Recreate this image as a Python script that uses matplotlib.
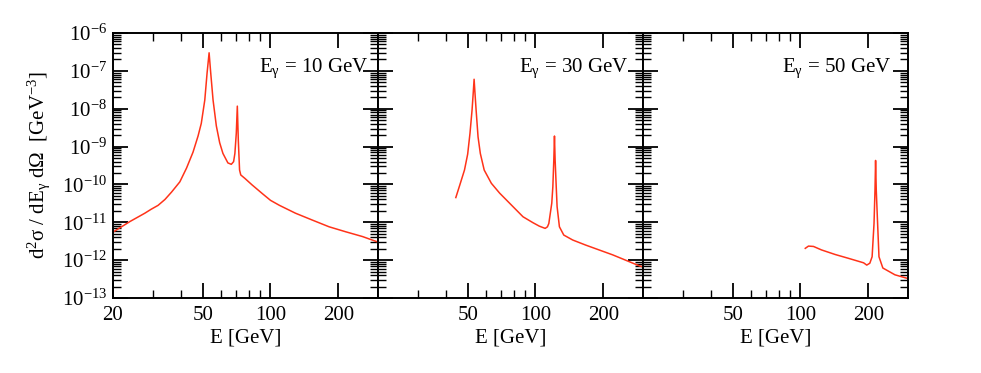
import matplotlib
matplotlib.use("Agg")
import matplotlib.pyplot as plt
import numpy as np
from matplotlib.ticker import FixedLocator, NullFormatter, LogLocator, LogFormatterMathtext, FuncFormatter

plt.rcParams['font.family'] = 'Liberation Serif'
plt.rcParams['mathtext.fontset'] = 'custom'
plt.rcParams['mathtext.rm'] = 'Liberation Serif'
plt.rcParams['mathtext.it'] = 'Liberation Serif:italic'
plt.rcParams['mathtext.default'] = 'regular'
plt.rcParams['axes.unicode_minus'] = False

# E_gamma = 10 GeV
e10 = [20.0, 23.8, 27.7, 29.5, 31.7, 34.0, 36.4, 39.6, 42.4, 45.3, 47.7, 49.3, 51.1,
       52.3, 53.4, 54.3, 55.6, 57.5, 59.5, 61.5, 64.7, 67.0, 68.6, 69.5, 70.5, 71.25,
       71.97, 72.9, 73.8, 76.9, 82.7, 92.4, 100.0, 109.6, 129.0, 153.0, 182.0, 216.0,
       256.0, 300.0]
s10 = [5.5e-12, 1.05e-11, 1.74e-11, 2.2e-11, 2.8e-11, 4.0e-11, 6.3e-11, 1.17e-10,
       2.7e-10, 7.1e-10, 1.9e-9, 4.1e-9, 1.7e-8, 8.7e-8, 3.0e-7, 8.7e-8, 1.7e-8,
       3.5e-9, 1.26e-9, 6.6e-10, 3.7e-10, 3.4e-10, 4.0e-10, 6.6e-10, 2.24e-9, 1.17e-8,
       1.48e-9, 2.4e-10, 1.78e-10, 1.45e-10, 9.8e-11, 5.6e-11, 3.8e-11, 2.8e-11,
       1.74e-11, 1.15e-11, 7.6e-12, 5.6e-12, 4.2e-12, 3.0e-12]

# E_gamma = 30 GeV
e30 = [44.3, 46.1, 48.4, 50.0, 51.2, 52.3, 52.9, 53.4, 53.9, 54.5, 55.6, 56.9, 59.2,
       63.7, 69.3, 79.4, 88.0, 97.3, 104.0, 110.4, 113.0, 114.6, 118.1, 119.4, 120.6,
       121.4, 122.2, 123.6, 124.7, 127.7, 133.5, 146.3, 167.0, 220.0, 288.6, 300.0]
s30 = [4.5e-11, 9.5e-11, 2.4e-10, 6.3e-10, 2.24e-9, 9.3e-9, 2.5e-8, 6.0e-8, 2.5e-8,
       9.3e-9, 1.8e-9, 6.6e-10, 2.4e-10, 1.07e-10, 5.9e-11, 2.6e-11, 1.4e-11, 9.8e-12,
       7.9e-12, 6.9e-12, 7.6e-12, 9.3e-12, 3.2e-11, 8.7e-11, 4.5e-10, 1.9e-9, 4.5e-10,
       8.7e-11, 2.6e-11, 7.6e-12, 4.6e-12, 3.4e-12, 2.5e-12, 1.38e-12, 7.1e-13, 6.6e-13]

# E_gamma = 50 GeV
e50 = [105.0, 108.5, 114.2, 124.0, 142.5, 163.0, 190.6, 196.8, 203.1, 207.9, 212.0,
       214.1, 215.4, 216.9, 219.9, 223.0, 232.0, 262.5, 298.0, 300.0]
s50 = [2.05e-12, 2.35e-12, 2.3e-12, 1.86e-12, 1.41e-12, 1.12e-12, 8.5e-13, 7.4e-13,
       8.3e-13, 1.23e-12, 9.3e-12, 7.1e-11, 4.3e-10, 7.1e-11, 9.3e-12, 1.23e-12,
       6.2e-13, 4.1e-13, 3.3e-13, 3.25e-13]

curves = [(e10, s10), (e30, s30), (e50, s50)]
labels = [r'E$_{\gamma}$ = 10 GeV', r'E$_{\gamma}$ = 30 GeV', r'E$_{\gamma}$ = 50 GeV']
label_x = [0.962, 0.943, 0.936]

fig = plt.figure(figsize=(9.81, 3.73), dpi=100)
left, bottom, w, h = 113 / 981, 75 / 373, 265 / 981, 265 / 373

for i, (x, y) in enumerate(curves):
    ax = fig.add_axes([left + i * w, bottom, w, h])
    ax.plot(x, y, color='#ff3319', lw=1.1)
    ax.set_xscale('log')
    ax.set_yscale('log')
    ax.set_xlim(20, 300)
    ax.set_ylim(1e-13, 1e-6)

    if i == 0:
        ax.xaxis.set_major_locator(FixedLocator([20, 50, 100, 200]))
    else:
        ax.xaxis.set_major_locator(FixedLocator([50, 100, 200]))
    ax.xaxis.set_minor_locator(FixedLocator([30, 40, 60, 70, 80, 90]))
    ax.xaxis.set_major_formatter(FuncFormatter(lambda v, p: '%d' % v))
    ax.xaxis.set_minor_formatter(NullFormatter())

    ax.yaxis.set_major_locator(LogLocator(base=10, numticks=20))
    ax.yaxis.set_minor_locator(LogLocator(base=10, subs=np.arange(2, 10), numticks=20))
    ax.yaxis.set_minor_formatter(NullFormatter())
    if i == 0:
        ax.yaxis.set_major_formatter(LogFormatterMathtext())
        ax.set_ylabel(r'd$^{2}$σ / dE$_{\gamma}$ dΩ  [GeV$^{-3}$]', fontsize=15, labelpad=7)
    else:
        ax.yaxis.set_major_formatter(NullFormatter())

    ax.tick_params(which='both', direction='in', top=True, right=True, labelsize=15)
    ax.tick_params(which='major', length=10.5, width=1.3, pad=6)
    ax.tick_params(axis='y', which='major', pad=4)
    ax.tick_params(which='minor', length=5.5, width=1.0)
    for sp in ax.spines.values():
        sp.set_linewidth(1.4)

    ax.set_xlabel('E [GeV]', fontsize=15, labelpad=2)
    ax.text(label_x[i], 0.853, labels[i], transform=ax.transAxes, ha='right',
            va='baseline', fontsize=15)

fig.savefig('out.png', dpi=100)
